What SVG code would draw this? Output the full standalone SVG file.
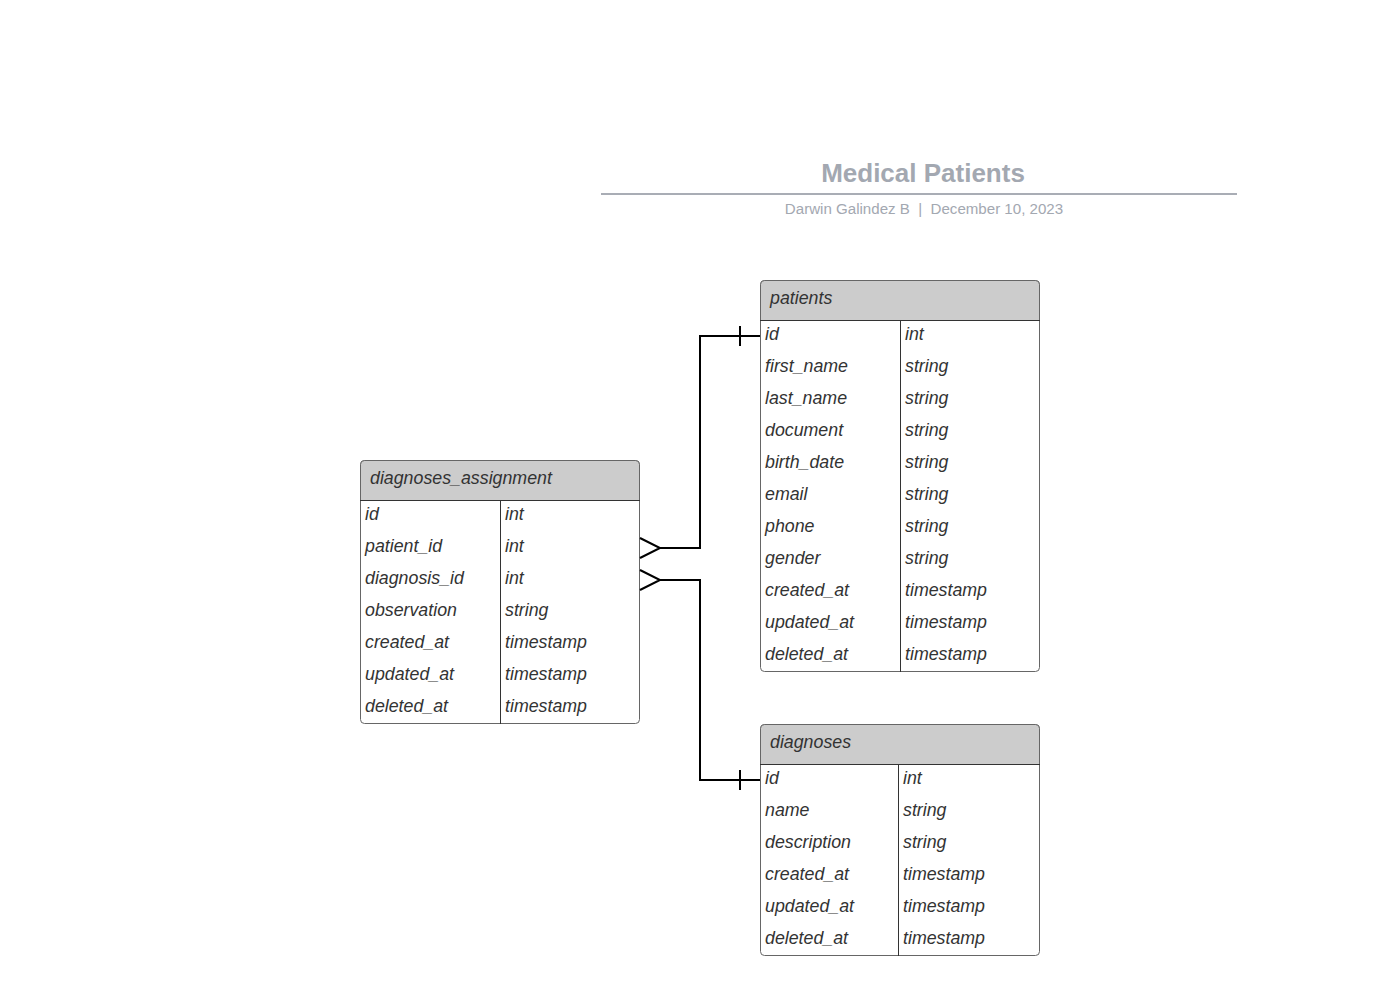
<svg xmlns="http://www.w3.org/2000/svg" width="1388" height="996" viewBox="0 0 1388 996">
<style>
.t{font-family:"Liberation Sans",Arial,sans-serif;font-style:italic;font-size:17.8px;fill:#333}
.hd{fill:#cccccc;stroke:#666;stroke-width:1}
.bd{fill:#fff;stroke:#666;stroke-width:1}
.dv{stroke:#333;stroke-width:1}
.cn{fill:none;stroke:#000;stroke-width:2}
</style>
<rect width="1388" height="996" fill="#fff"/>
<g id="title">
<text x="923" y="182" text-anchor="middle" font-family="Liberation Sans,Arial,sans-serif" font-weight="bold" font-size="26" fill="#a3a8b1">Medical Patients</text>
<line x1="601" y1="194" x2="1237" y2="194" stroke="#a9adb5" stroke-width="2"/>
<text x="924" y="214" text-anchor="middle" font-family="Liberation Sans,Arial,sans-serif" font-size="15.1" fill="#a3a8b1" xml:space="preserve" style="white-space:pre">Darwin Galindez B  |  December 10, 2023</text>
</g>
<g id="patients">
<rect class="bd" x="760.5" y="280.5" width="279" height="391" rx="4"/>
<path class="hd" d="M760.5,320.5 V284.5 a4,4 0 0 1 4,-4 H1035.5 a4,4 0 0 1 4,4 V320.5 Z"/>
<line class="dv" x1="760" y1="320.5" x2="1040" y2="320.5"/>
<line class="dv" x1="900.5" y1="320" x2="900.5" y2="672"/>
<text class="t" x="770" y="304">patients</text>
<text class="t" x="765" y="340">id</text><text class="t" x="905" y="340">int</text>
<text class="t" x="765" y="372">first_name</text><text class="t" x="905" y="372">string</text>
<text class="t" x="765" y="404">last_name</text><text class="t" x="905" y="404">string</text>
<text class="t" x="765" y="436">document</text><text class="t" x="905" y="436">string</text>
<text class="t" x="765" y="468">birth_date</text><text class="t" x="905" y="468">string</text>
<text class="t" x="765" y="500">email</text><text class="t" x="905" y="500">string</text>
<text class="t" x="765" y="532">phone</text><text class="t" x="905" y="532">string</text>
<text class="t" x="765" y="564">gender</text><text class="t" x="905" y="564">string</text>
<text class="t" x="765" y="596">created_at</text><text class="t" x="905" y="596">timestamp</text>
<text class="t" x="765" y="628">updated_at</text><text class="t" x="905" y="628">timestamp</text>
<text class="t" x="765" y="660">deleted_at</text><text class="t" x="905" y="660">timestamp</text>
</g>
<g id="diagnoses_assignment">
<rect class="bd" x="360.5" y="460.5" width="279" height="263" rx="4"/>
<path class="hd" d="M360.5,500.5 V464.5 a4,4 0 0 1 4,-4 H635.5 a4,4 0 0 1 4,4 V500.5 Z"/>
<line class="dv" x1="360" y1="500.5" x2="640" y2="500.5"/>
<line class="dv" x1="500.5" y1="500" x2="500.5" y2="724"/>
<text class="t" x="370" y="484">diagnoses_assignment</text>
<text class="t" x="365" y="520">id</text><text class="t" x="505" y="520">int</text>
<text class="t" x="365" y="552">patient_id</text><text class="t" x="505" y="552">int</text>
<text class="t" x="365" y="584">diagnosis_id</text><text class="t" x="505" y="584">int</text>
<text class="t" x="365" y="616">observation</text><text class="t" x="505" y="616">string</text>
<text class="t" x="365" y="648">created_at</text><text class="t" x="505" y="648">timestamp</text>
<text class="t" x="365" y="680">updated_at</text><text class="t" x="505" y="680">timestamp</text>
<text class="t" x="365" y="712">deleted_at</text><text class="t" x="505" y="712">timestamp</text>
</g>
<g id="diagnoses">
<rect class="bd" x="760.5" y="724.5" width="279" height="231" rx="4"/>
<path class="hd" d="M760.5,764.5 V728.5 a4,4 0 0 1 4,-4 H1035.5 a4,4 0 0 1 4,4 V764.5 Z"/>
<line class="dv" x1="760" y1="764.5" x2="1040" y2="764.5"/>
<line class="dv" x1="898.5" y1="764" x2="898.5" y2="956"/>
<text class="t" x="770" y="748">diagnoses</text>
<text class="t" x="765" y="784">id</text><text class="t" x="903" y="784">int</text>
<text class="t" x="765" y="816">name</text><text class="t" x="903" y="816">string</text>
<text class="t" x="765" y="848">description</text><text class="t" x="903" y="848">string</text>
<text class="t" x="765" y="880">created_at</text><text class="t" x="903" y="880">timestamp</text>
<text class="t" x="765" y="912">updated_at</text><text class="t" x="903" y="912">timestamp</text>
<text class="t" x="765" y="944">deleted_at</text><text class="t" x="903" y="944">timestamp</text>
</g>
<g id="connectors">
<path class="cn" d="M660,548 H700 V336 H760"/>
<path class="cn" d="M740,326 V346"/>
<path class="cn" d="M640,538 L660,548 L640,558"/>
<path class="cn" d="M660,580 H700 V780 H760"/>
<path class="cn" d="M740,770 V790"/>
<path class="cn" d="M640,570 L660,580 L640,590"/>
</g>
</svg>
